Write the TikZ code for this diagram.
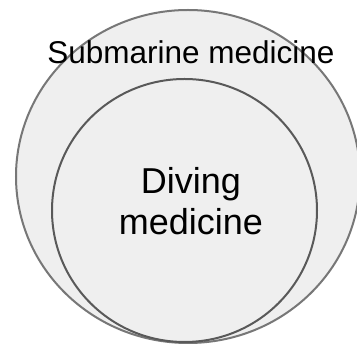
\documentclass[tikz,border=0pt]{standalone}
\usepackage{fontspec}
\setmainfont{Liberation Sans}
\definecolor{fillgray}{HTML}{EFEFEF}
\definecolor{outerline}{HTML}{777777}
\definecolor{innerline}{HTML}{595959}
\begin{document}
\begin{tikzpicture}[x=1pt,y=1pt,
  outerset/.style={draw=outerline, fill=fillgray, line width=2pt},
  innerset/.style={draw=innerline, fill=fillgray, line width=2pt},
  label/.style={inner sep=0pt, anchor=base, text=black}]
\useasboundingbox (0,0) rectangle (357,345);
\fill[white] (0,0) rectangle (357,345);
\draw[outerset] (188,168.5) ellipse [x radius=172, y radius=166.5];
\draw[innerset] (184.5,134.5) ellipse [x radius=132.5, y radius=131.5];
\node[label, font=\fontsize{31.5}{36}\selectfont] (outer) at (191,281.7) {Submarine medicine};
\node[label, font=\fontsize{36}{41.7}\selectfont, align=center] (inner) at (191,110) {Diving\\medicine};
\end{tikzpicture}
\end{document}
